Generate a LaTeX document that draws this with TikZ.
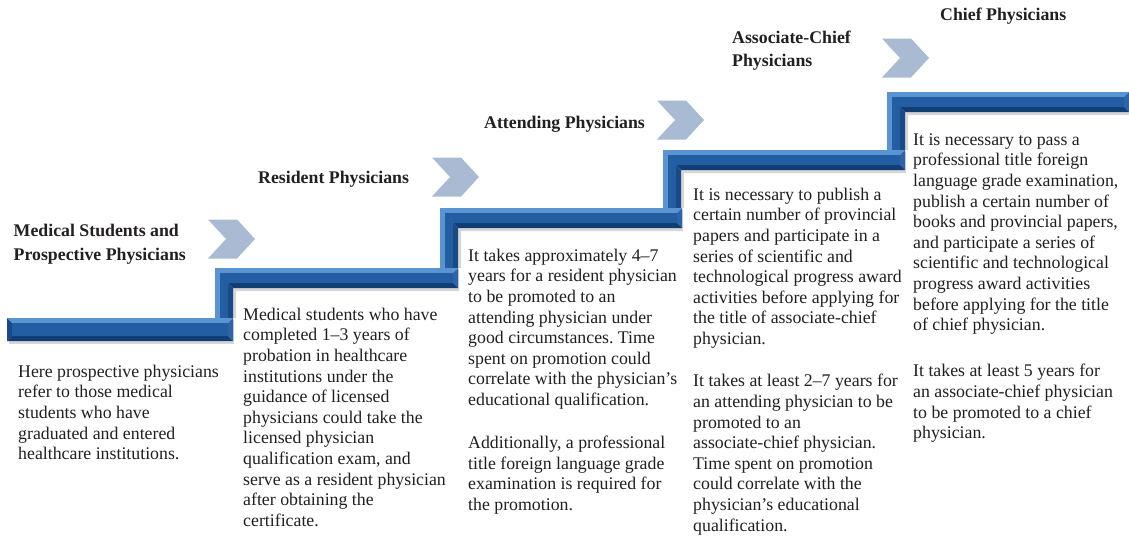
\documentclass[tikz,border=0pt]{standalone}
\usepackage{fontspec}
\setmainfont{Liberation Serif}
\frenchspacing
\definecolor{txt}{HTML}{231F20}
\definecolor{chev}{HTML}{A8BBD3}
\definecolor{bevtop}{HTML}{5A95D1}
\definecolor{bevend}{HTML}{2D66A8}
\definecolor{bevbot}{HTML}{0F3D74}
\definecolor{bevin}{HTML}{174A86}
\definecolor{face}{HTML}{245EA2}
% inverted-L stair piece: #1 xl, #2 xr, #3 yt, #4 yb, #5 ylow
\newcommand{\stairL}[5]{%
  \fill[black,opacity=.16] ({#1+2},{#3+2}) -- ({#2+1},{#3+2}) -- ({#2+1},{#4+3}) -- ({#1+21},{#4+3}) -- ({#1+21},{#5}) -- ({#1+2},{#5}) -- cycle;
  \fill[bevtop] (#1,#5) -- (#1,#3) -- (#2,#3) -- ({#2-5},{#3+5}) -- ({#1+5},{#3+5}) -- ({#1+5},#5) -- cycle;
  \fill[bevend] (#2,#3) -- (#2,#4) -- ({#2-5},{#4-5}) -- ({#2-5},{#3+5}) -- cycle;
  \fill[bevbot] (#2,#4) -- ({#1+18},#4) -- ({#1+13},{#4-5}) -- ({#2-5},{#4-5}) -- cycle;
  \fill[bevin] ({#1+18},#4) -- ({#1+18},#5) -- ({#1+13},#5) -- ({#1+13},{#4-5}) -- cycle;
  \fill[face] ({#1+5},#5) -- ({#1+5},{#3+5}) -- ({#2-5},{#3+5}) -- ({#2-5},{#4-5}) -- ({#1+13},{#4-5}) -- ({#1+13},#5) -- cycle;
}
% plain horizontal bar: #1 xl, #2 xr, #3 yt, #4 yb
\newcommand{\stairH}[4]{%
  \fill[black,opacity=.16] ({#1+2},{#3+2}) rectangle ({#2+1},{#4+3});
  \fill[bevtop] (#1,#3) -- (#2,#3) -- ({#2-5},{#3+5}) -- ({#1+5},{#3+5}) -- cycle;
  \fill[bevend] (#2,#3) -- (#2,#4) -- ({#2-5},{#4-5}) -- ({#2-5},{#3+5}) -- cycle;
  \fill[bevin] (#1,#3) -- (#1,#4) -- ({#1+5},{#4-5}) -- ({#1+5},{#3+5}) -- cycle;
  \fill[bevbot] (#1,#4) -- (#2,#4) -- ({#2-5},{#4-5}) -- ({#1+5},{#4-5}) -- cycle;
  \fill[face] ({#1+5},{#3+5}) rectangle ({#2-5},{#4-5});
}
% chevron: #1 x0, #2 y0
\newcommand{\chevron}[2]{%
  \fill[chev] (#1,#2) -- ({#1+29},#2) -- ({#1+47},{#2+19.5}) -- ({#1+29},{#2+39}) -- (#1,{#2+39}) -- ({#1+18},{#2+19.5}) -- cycle;
}
\tikzset{
  body/.style={anchor=north west, inner sep=0pt, align=left, text=txt,
    font=\fontsize{17.8}{20.6}\selectfont},
  title/.style={anchor=north west, inner sep=0pt, align=left, text=txt,
    font=\bfseries\fontsize{17.8}{23.3}\selectfont}
}
\begin{document}
\begin{tikzpicture}[x=1pt,y=-1pt]
\useasboundingbox[fill=white] (0,0) rectangle (1129,536);

% staircase
\stairL{887}{1129}{92}{112}{150}
\stairL{663}{905}{150}{170}{208}
\stairL{440}{682}{208}{228}{268}
\stairL{215}{458}{268}{288}{318}
\stairH{7}{233}{318}{341}

% chevrons
\chevron{208}{219.5}
\chevron{432}{157.5}
\chevron{657}{100.5}
\chevron{882}{38.5}

% titles
\node[title] (t1) at (13.5,220.4) {\strut Medical Students and\\Prospective Physicians};
\node[title] (t2) at (258,167) {\strut Resident Physicians};
\node[title] (t3) at (484,112) {\strut Attending Physicians};
\node[title] (t4) at (732,27) {\strut Associate-Chief\\Physicians};
\node[title] (t5) at (940,3.7) {\strut Chief Physicians};

% texts
\node[body] (b1) at (18,362.6) {\strut Here prospective physicians\\refer to those medical\\students who have\\graduated and entered\\healthcare institutions.};
\node[body] (b2) at (243,305.6) {\strut Medical students who have\\completed 1–3 years of\\probation in healthcare\\institutions under the\\guidance of licensed\\physicians could take the\\licensed physician\\qualification exam, and\\serve as a resident physician\\after obtaining the\\certificate.};
\node[body] (b3a) at (468,246.6) {\strut It takes approximately 4–7\\years for a resident physician\\to be promoted to an\\attending physician under\\good circumstances. Time\\spent on promotion could\\correlate with the physician’s\\educational qualification.};
\node[body] (b3b) at (468,433.9) {\strut Additionally, a professional\\title foreign language grade\\examination is required for\\the promotion.};
\node[body] (b4a) at (693,185.6) {\strut It is necessary to publish a\\certain number of provincial\\papers and participate in a\\series of scientific and\\technological progress award\\activities before applying for\\the title of associate-chief\\physician.};
\node[body] (b4b) at (693,372.3) {\strut It takes at least 2–7 years for\\an attending physician to be\\promoted to an\\associate-chief physician.\\Time spent on promotion\\could correlate with the\\physician’s educational\\qualification.};
\node[body] (b5a) at (913,130.6) {\strut It is necessary to pass a\\professional title foreign\\language grade examination,\\publish a certain number of\\books and provincial papers,\\and participate a series of\\scientific and technological\\progress award activities\\before applying for the title\\of chief physician.};
\node[body] (b5b) at (913,362.3) {\strut It takes at least 5 years for\\an associate-chief physician\\to be promoted to a chief\\physician.};
\end{tikzpicture}
\end{document}
